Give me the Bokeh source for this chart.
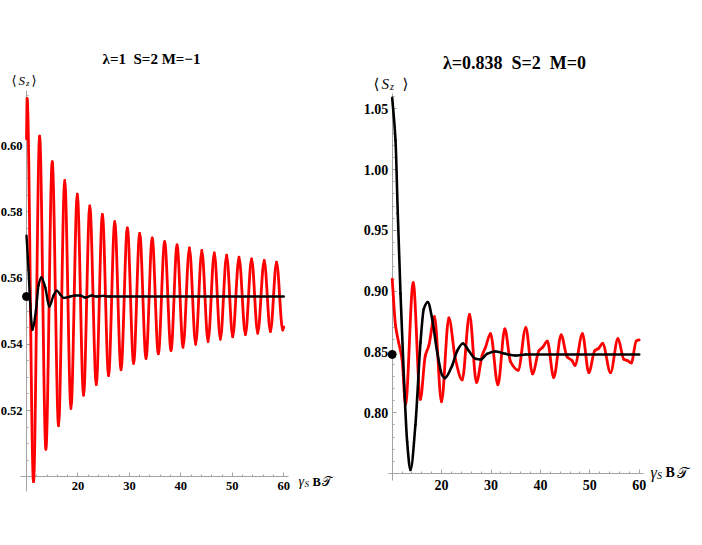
from bokeh.plotting import figure
from bokeh.layouts import row
from bokeh.models import Range1d, LinearAxis, FixedTicker, PrintfTickFormatter, Label
from bokeh.embed import file_html
from bokeh.resources import INLINE

# ---------------- data: left panel (lambda=1, S=2, M=-1) ----------------
left_red_t = [10.0, 10.12, 11.36, 12.55, 13.77, 15.0, 16.23, 17.43, 18.64, 19.87, 21.09, 22.3,
              23.56, 24.75, 25.95, 27.15, 28.37, 29.6, 30.82, 32.0, 33.23, 34.43, 35.62, 36.85,
              38.09, 39.26, 40.43, 41.66, 42.88, 44.08, 45.29, 46.5, 47.68, 48.9, 50.08, 51.3,
              52.55, 53.75, 54.94, 56.2, 57.41, 58.6, 59.8, 60.0]
left_red_s = [0.602, 0.6142, 0.4985, 0.6028, 0.5083, 0.5951, 0.5154, 0.5895, 0.5206, 0.5853, 0.5246, 0.5818,
              0.5278, 0.5792, 0.5305, 0.5770, 0.5323, 0.5751, 0.5342, 0.5735, 0.5357, 0.5721, 0.5371, 0.5710,
              0.5381, 0.5700, 0.5391, 0.5691, 0.5400, 0.5683, 0.5408, 0.5676, 0.5415, 0.5669, 0.5422, 0.5663,
              0.5429, 0.5658, 0.5433, 0.5653, 0.5438, 0.5648, 0.5443, 0.5452]
left_black_t = [10.0, 10.4, 10.72, 11.17, 11.83, 12.33, 12.86, 13.64, 14.42, 15.25, 15.9, 16.56, 17.2,
                18.5, 19.4, 20.45, 21.4, 22.7, 23.6, 24.9, 26.2, 60.0]
left_black_s = [0.5728, 0.5623, 0.5522, 0.5444, 0.5502, 0.5577, 0.5602, 0.5572, 0.5514, 0.5547, 0.5562, 0.5550, 0.5540,
                0.5544, 0.5547, 0.5547, 0.5541, 0.5547, 0.5544, 0.5546, 0.5544, 0.5544]
left_dot_t = [10.0]
left_dot_s = [0.5544]

left_xticks = [20, 30, 40, 50, 60]
left_xminor = [12, 14, 16, 18, 22, 24, 26, 28, 32, 34, 36, 38, 42, 44, 46, 48, 52, 54, 56, 58]
left_yticks = [0.52, 0.54, 0.56, 0.58, 0.60]
left_yminor = [0.505, 0.51, 0.515, 0.525, 0.53, 0.535, 0.545, 0.55, 0.555, 0.565, 0.57, 0.575,
               0.585, 0.59, 0.595, 0.605, 0.61, 0.615]

# ---------------- data: right panel (lambda=0.838, S=2, M=0) ----------------
right_red_t = [10.0, 10.67, 11.3, 12.0, 12.7, 14.25, 15.7, 16.7, 17.4, 18.56, 19.98, 21.46, 22.8, 24.17,
               25.65, 27.06, 28.2, 28.9, 29.9, 31.4, 32.8, 33.95, 35.5, 37.05, 38.4, 39.7, 40.5, 41.4,
               42.7, 44.2, 45.4, 46.4, 47.0, 48.5, 49.8, 51.0, 51.8, 52.6, 54.2, 55.7, 56.9, 57.6,
               58.4, 59.4, 60.0]
right_red_s = [0.910, 0.872, 0.858, 0.844, 0.807, 0.907, 0.811, 0.847, 0.855, 0.879, 0.809, 0.878, 0.844, 0.827,
               0.881, 0.825, 0.847, 0.854, 0.865, 0.823, 0.869, 0.842, 0.835, 0.870, 0.832, 0.851, 0.854, 0.859,
               0.829, 0.864, 0.846, 0.843, 0.839, 0.865, 0.833, 0.851, 0.853, 0.857, 0.833, 0.861, 0.844, 0.843,
               0.841, 0.859, 0.860]
right_black_t = [10.0, 10.67, 11.13, 11.68, 12.35, 13.03, 13.7, 14.7, 15.73, 16.4, 17.2, 18.1, 19.1, 20.1,
                 20.65, 22.15, 23.16, 24.3, 25.5, 26.86, 27.9, 29.2, 30.9, 32.9, 34.96, 37.0, 60.0]
right_black_s = [1.059, 1.024, 0.964, 0.898, 0.831, 0.776, 0.753, 0.790, 0.858, 0.8855, 0.891, 0.877, 0.850, 0.831,
                 0.8285, 0.839, 0.851, 0.857, 0.851, 0.8444, 0.8438, 0.8485, 0.8504, 0.8485, 0.8471, 0.848, 0.848]
right_dot_t = [10.0]
right_dot_s = [0.848]

right_xticks = [20, 30, 40, 50, 60]
right_xminor = [12, 14, 16, 18, 22, 24, 26, 28, 32, 34, 36, 38, 42, 44, 46, 48, 52, 54, 56, 58]
right_yticks = [0.80, 0.85, 0.90, 0.95, 1.00, 1.05]
right_yminor = [0.76, 0.77, 0.78, 0.79, 0.81, 0.82, 0.83, 0.84, 0.86, 0.87, 0.88, 0.89, 0.91, 0.92,
                0.93, 0.94, 0.96, 0.97, 0.98, 0.99, 1.01, 1.02, 1.03, 1.04, 1.06]

NB = "\u00a0"
title_left = "λ=1" + NB * 2 + "S=2" + NB + "M=−1"
title_right = "λ=0.838" + NB * 2 + "S=2" + NB * 2 + "M=0"

# ---------------- layout constants (page px == canvas px) ----------------
H = 540
WL, WR = 350, 352
AX_COLOR = "#a3a3a3"
SERIF = "Liberation Serif"

LX0, LSX = 26.0, 5.145       # px of t=10 ; px per unit
LY0, LSY = 145.0, 3312.5     # py of 0.60 ; px per unit
L_XR = (10 - LX0 / LSX, 10 + (WL - LX0) / LSX)
L_YR = (0.60 - (H - LY0) / LSY, 0.60 + LY0 / LSY)

RX0, RSX = 391.7, 4.94
RY0, RSY = 412.3, 1216.0
R_XR = (10 - (RX0 - WL) / RSX, 10 + (WL + WR - RX0) / RSX)
R_YR = (0.80 - (H - RY0) / RSY, 0.80 + RY0 / RSY)


def make_panel(width, xr, yr, x_fixed, y_fixed, xb, yb, xt, xm, yt, ym, tick_fs, std_x, std_y):
    p = figure(width=width, height=H, x_range=Range1d(*xr), y_range=Range1d(*yr),
               output_backend="svg", toolbar_location=None, min_border=0, title=None,
               x_axis_type=None, y_axis_type=None)
    p.outline_line_color = None
    p.background_fill_color = "white"
    p.border_fill_color = "white"
    xa = LinearAxis(fixed_location=x_fixed, bounds=xb,
                    ticker=FixedTicker(ticks=xt, minor_ticks=xm))
    ya = LinearAxis(fixed_location=y_fixed, bounds=yb,
                    ticker=FixedTicker(ticks=yt, minor_ticks=ym),
                    formatter=PrintfTickFormatter(format="%.2f"))
    for ax, std in ((xa, std_x), (ya, std_y)):
        ax.axis_line_color = AX_COLOR
        ax.axis_line_width = 1
        ax.major_tick_line_color = AX_COLOR
        ax.minor_tick_line_color = AX_COLOR
        ax.major_tick_in = 4
        ax.major_tick_out = 0
        ax.minor_tick_in = 2
        ax.minor_tick_out = 0
        ax.major_label_text_font = SERIF
        ax.major_label_text_font_style = "bold"
        ax.major_label_text_font_size = tick_fs
        ax.major_label_text_color = "black"
        ax.major_label_standoff = std
        ax.level = "underlay"
    p.add_layout(xa, "below")
    p.add_layout(ya, "left")
    return p


def curve(p, t, s, color, width):
    """Smooth curve through the read points, drawn with Bokeh's bezier glyph
    (shape-preserving cubic Hermite: flat at each read extremum, no overshoot)."""
    n = len(t)
    h = [t[i + 1] - t[i] for i in range(n - 1)]
    d = [(s[i + 1] - s[i]) / h[i] for i in range(n - 1)]
    m = [0.0] * n
    m[0], m[-1] = d[0], d[-1]
    for i in range(1, n - 1):
        if d[i - 1] * d[i] <= 0:
            m[i] = 0.0
        else:
            w1, w2 = 2 * h[i] + h[i - 1], h[i] + 2 * h[i - 1]
            m[i] = (w1 + w2) / (w1 / d[i - 1] + w2 / d[i])
    x0, y0, x1, y1 = t[:-1], s[:-1], t[1:], s[1:]
    cx0 = [t[i] + h[i] / 3 for i in range(n - 1)]
    cy0 = [s[i] + m[i] * h[i] / 3 for i in range(n - 1)]
    cx1 = [t[i + 1] - h[i] / 3 for i in range(n - 1)]
    cy1 = [s[i + 1] - m[i + 1] * h[i] / 3 for i in range(n - 1)]
    p.bezier(x0=x0, y0=y0, x1=x1, y1=y1, cx0=cx0, cy0=cy0, cx1=cx1, cy1=cy1,
             line_color=color, line_width=width, line_cap="round")


pl = make_panel(WL, L_XR, L_YR, 0.50, 10, (8.9, 61.0), (0.4954, 0.6166),
                left_xticks, left_xminor, left_yticks, left_yminor, "12.5px", 5, 4)
curve(pl, left_red_t, left_red_s, "#ff0000", 2.8)
curve(pl, left_black_t, left_black_s, "black", 2.4)
pl.scatter(left_dot_t, left_dot_s, size=8, color="black")

pr = make_panel(WR, R_XR, R_YR, 0.75, 10, (9.3, 60.8), (0.7443, 1.0623),
                right_xticks, right_xminor, right_yticks, right_yminor, "14px", 6, 4)
curve(pr, right_red_t, right_red_s, "#ff0000", 2.8)
curve(pr, right_black_t, right_black_s, "black", 2.6)
pr.scatter(right_dot_t, right_dot_s, size=8, color="black")


def lpos(px, py):
    return (L_XR[0] + px / LSX, L_YR[1] - py / LSY)


def rpos(px, py):
    return (R_XR[0] + (px - WL) / RSX, R_YR[1] - py / RSY)


def put(p, pos, text, size, style="bold", align="left", baseline="alphabetic", font=SERIF):
    x, y = pos
    p.add_layout(Label(x=x, y=y, text=text, text_font=font, text_font_size=size,
                       text_font_style=style, text_align=align, text_baseline=baseline,
                       text_color="black"))


# titles
put(pl, lpos(151, 58), title_left, "15px", align="center", baseline="middle")
put(pr, rpos(514, 62), title_right, "18px", align="center", baseline="middle")

# y labels  < S_z >
put(pl, lpos(11, 79.5), "⟨", "13px", style="normal", font="DejaVu Serif")
put(pl, lpos(18, 79.5), "S", "13px", style="italic")
put(pl, lpos(25.5, 82), "z", "9px", style="italic")
put(pl, lpos(31, 79.5), "⟩", "13px", style="normal", font="DejaVu Serif")

put(pr, rpos(373, 83.5), "⟨", "15px", style="normal", font="DejaVu Serif")
put(pr, rpos(381, 83.5), "S", "15px", style="italic")
put(pr, rpos(389.5, 86), "z", "10px", style="italic")
put(pr, rpos(402, 83.5), "⟩", "15px", style="normal", font="DejaVu Serif")

# x labels  gamma_S B T
put(pl, lpos(298, 481), "γ", "14px", style="italic")
put(pl, lpos(304, 483.5), "S", "9px", style="italic")
put(pl, lpos(312, 481), "B", "12.5px")
put(pl, lpos(321, 481), "𝒯", "13px", style="normal", font="DejaVu Serif")

put(pr, rpos(650, 472), "γ", "16px", style="italic")
put(pr, rpos(656.5, 474.5), "S", "10px", style="italic")
put(pr, rpos(665, 472), "B", "14px")
put(pr, rpos(676, 472), "𝒯", "15px", style="normal", font="DejaVu Serif")

layout = row(pl, pr)
open("out.html", "w").write(file_html(layout, INLINE))
